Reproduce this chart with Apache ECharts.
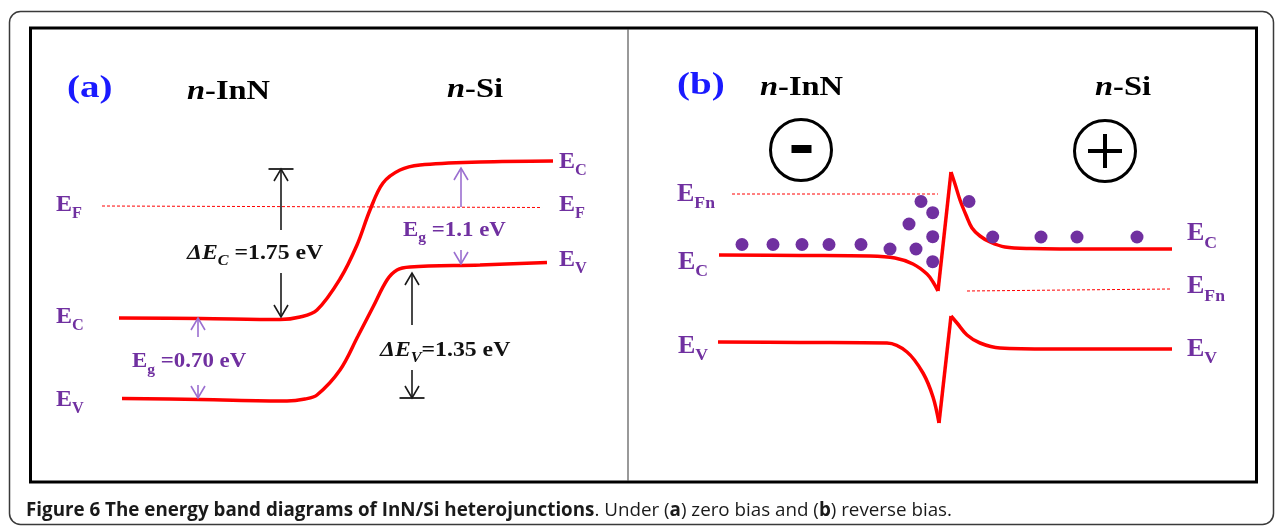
<!DOCTYPE html>
<html>
<head>
<meta charset="utf-8">
<script src="https://cdn.jsdelivr.net/npm/echarts@6/dist/echarts.min.js"></script>
<style>
  html, body { margin: 0; padding: 0; background: #fff; }
  #chart { width: 1281px; height: 527px; }
</style>
</head>
<body>
<div id="chart"></div>
<script>
// Band diagrams of an n-InN / n-Si heterojunction.
// Positions are in arbitrary units along the junction, energies in arbitrary units (higher = up).

// ---- Panel (a): zero bias ----
const EC_A = [[89,165],[170,164.5],[250,163.5],[270,166],[287,173],[310,204],[327,238],[340,273],[353,300],[370,313],[390,318],[450,321],[523,322]];
const EV_A = [[92,84.5],[170,83.5],[257,82],[275,84],[287,88],[310,113],[328,147],[343,176],[357,203],[367,213],[380,216],[450,218],[517,220.5]];
const EF_A = [[72,277],[512,275.5]];

// arrows: [x, from, to, end bar]
const ARROWS_A_BLACK = [[251,253,314,1],[251,210,166,0],[382,158,210,0],[382,113,85,1]];
const ARROWS_A_PURPLE = [[168,146,165,0],[168,98,85,0],[431,276,315,0],[431,233,219,0]];

// text: [x, energy, markup, class]
const LABELS_A = [
  [37,394,'{r|(a)}','tag'],
  [157,391,'{i|n}{r|-InN}','title'],
  [417,393,'{i|n}{r|-Si}','title'],
  [26,278,'{r|E}{s|F}','bandA'],
  [26,166.5,'{r|E}{s|C}','bandA'],
  [26,83,'{r|E}{s|V}','bandA'],
  [529,321.5,'{r|E}{s|C}','bandA'],
  [529,278,'{r|E}{s|F}','bandA'],
  [529,223.5,'{r|E}{s|V}','bandA'],
  [157,230,'{i|ΔE}{si|C}{r| =1.75 eV}','noteK'],
  [102,121.5,'{r|E}{s|g}{r| =0.70 eV}','noteP'],
  [373,253,'{r|E}{s|g}{r| =1.1 eV}','noteP'],
  [350,133,'{i|ΔE}{si|V}{r|=1.35 eV}','noteK']
];

// ---- Panel (b): reverse bias ----
const EC_B_LEFT = [[91,228],[172,227.5],[242,227],[267,225],[285,219],[299,209],[305,201],[310,192]];
const EC_B_SPIKE = [[310,192],[323,311]];
const EC_B_RIGHT = [[323,311],[327,299],[332,283],[338,268],[344,255],[352,247],[362,241],[377,236],[402,234.5],[472,234],[544,234]];
const EV_B_LEFT = [[90,141],[172,140.5],[259,140],[279,131],[295,110],[305,86],[311,60]];
const EV_B_SPIKE = [[311,60],[323,167]];
const EV_B_RIGHT = [[323,167],[329,160],[339,148],[352,140],[372,135],[422,134],[544,134]];
const EFN_B_LEFT = [[104,289],[310,289]];
const EFN_B_RIGHT = [[339,192],[542,194]];
const ELECTRONS_B = [
  [114,238.5],[145,238.5],[174,238.5],[201,238.5],[233,238.5],
  [262,234],[288,234],[281,259],[293,281.5],[304.7,270.3],[304.7,246.3],[304.7,221.3],
  [341,281.5],[364.7,246],[413,246],[449,246],[509,246]
];
// bias polarity symbols: [x, energy, sign]
const SIGNS_B = [[173,333,-1],[477,332,1]];

const LABELS_B = [
  [49,397,'{r|(b)}','tag'],
  [132,395,'{i|n}{r|-InN}','title'],
  [467,395,'{i|n}{r|-Si}','title'],
  [49,289,'{r|E}{s|Fn}','bandB'],
  [50,221,'{r|E}{s|C}','bandB'],
  [50,137,'{r|E}{s|V}','bandB'],
  [559,249.5,'{r|E}{s|C}','bandB'],
  [559,196.5,'{r|E}{s|Fn}','bandB'],
  [559,134,'{r|E}{s|V}','bandB']
];

const RED = '#ff0000';
const PURPLE = '#7030a0';
// sx: horizontal stretch of the lettering
const CLASSES = {
  tag:   { size: 32, color: '#1a1aff', sx: 1.22 },
  title: { size: 28, color: '#000000', sx: 1.16 },
  bandA: { size: 24, color: PURPLE, sx: 1.0 },
  bandB: { size: 26, color: PURPLE, sx: 1.0 },
  noteK: { size: 22, color: '#111111', sx: 1.08 },
  noteP: { size: 22, color: PURPLE, sx: 1.04 }
};
const SERIF = '"Liberation Serif", "Times New Roman", serif';

const measureCtx = document.createElement('canvas').getContext('2d');
function textWidth(font, t) { measureCtx.font = font; return measureCtx.measureText(t).width; }

function textRenderer(labels) {
  return function (params, api) {
    const lab = labels[params.dataIndex];
    const p = api.coord([api.value(0), api.value(1)]);
    const cls = CLASSES[lab[3]];
    const children = [];
    let cx = 0;
    const re = /\{(\w+)\|([^}]*)\}/g;
    let m;
    while ((m = re.exec(lab[2])) !== null) {
      const key = m[1], t = m[2];
      const sub = key === 's' || key === 'si';
      const italic = key === 'i' || key === 'si';
      const size = sub ? cls.size * 0.68 : cls.size;
      const font = (italic ? 'italic ' : '') + 'bold ' + size.toFixed(1) + 'px ' + SERIF;
      children.push({
        type: 'text',
        style: { text: t, x: cx, y: sub ? cls.size * 0.38 : 0, font: font,
                 fill: cls.color, align: 'left', verticalAlign: 'middle' }
      });
      cx += textWidth(font, t);
    }
    return { type: 'group', x: p[0], y: p[1], scaleX: cls.sx, children: children };
  };
}

function arrowRenderer(list, color) {
  return function (params, api) {
    const a = list[params.dataIndex];
    const p0 = api.coord([a[0], a[1]]);
    const p1 = api.coord([a[0], a[2]]);
    const dir = p1[1] > p0[1] ? 1 : -1;
    const st = { stroke: color, lineWidth: 1.6, fill: 'none' };
    const children = [
      { type: 'line', shape: { x1: p0[0], y1: p0[1], x2: p1[0], y2: p1[1] }, style: st },
      { type: 'polyline', shape: { points: [[p1[0] - 7, p1[1] - dir * 12], [p1[0], p1[1]], [p1[0] + 7, p1[1] - dir * 12]] }, style: st }
    ];
    if (a[3]) {
      children.push({ type: 'line', shape: { x1: p1[0] - 12.5, y1: p1[1], x2: p1[0] + 12.5, y2: p1[1] }, style: { stroke: color, lineWidth: 1.8 } });
    }
    return { type: 'group', children: children };
  };
}

function signRenderer(params, api) {
  const s = SIGNS_B[params.dataIndex];
  const c = api.coord([s[0], s[1]]);
  const children = [
    { type: 'circle', shape: { cx: c[0], cy: c[1], r: 30.5 }, style: { fill: 'none', stroke: '#000', lineWidth: 3 } }
  ];
  if (s[2] < 0) {
    children.push({ type: 'rect', shape: { x: c[0] - 9.5, y: c[1] - 5, width: 20, height: 8 }, style: { fill: '#000' } });
  } else {
    children.push({ type: 'rect', shape: { x: c[0] - 17, y: c[1] - 2, width: 34, height: 4 }, style: { fill: '#000' } });
    children.push({ type: 'rect', shape: { x: c[0] - 2, y: c[1] - 17, width: 4, height: 34 }, style: { fill: '#000' } });
  }
  return { type: 'group', children: children };
}

function band(data, grid) {
  return { type: 'line', xAxisIndex: grid, yAxisIndex: grid, data: data, smooth: 0.35,
           showSymbol: false, symbol: 'none', lineStyle: { color: RED, width: 3.5 }, z: 3 };
}
function fermi(data, grid) {
  return { type: 'line', xAxisIndex: grid, yAxisIndex: grid, data: data, showSymbol: false, symbol: 'none',
           lineStyle: { color: RED, width: 1, type: [3, 2] }, z: 2 };
}
function custom(grid, render, n, z) {
  const data = [];
  for (let i = 0; i < n.length; i++) data.push([n[i][0], n[i][1]]);
  return { type: 'custom', xAxisIndex: grid, yAxisIndex: grid, renderItem: render, data: data,
           encode: { x: 0, y: 1 }, clip: false, z: z || 4 };
}

const chart = echarts.init(document.getElementById('chart'), null, { renderer: 'canvas' });
const axisX = (w) => ({ type: 'value', min: 0, max: w, show: false });
const axisY = { type: 'value', min: 0, max: 456, show: false };

chart.setOption({
  animation: false,
  backgroundColor: '#ffffff',
  grid: [
    { left: 30, top: 27, width: 598, height: 456 },
    { left: 628, top: 27, width: 629, height: 456 }
  ],
  xAxis: [Object.assign(axisX(598), { gridIndex: 0 }), Object.assign(axisX(629), { gridIndex: 1 })],
  yAxis: [Object.assign({ gridIndex: 0 }, axisY), Object.assign({ gridIndex: 1 }, axisY)],
  graphic: [
    { type: 'rect', shape: { x: 9.5, y: 11.5, width: 1264, height: 513, r: 11 },
      style: { fill: 'none', stroke: '#3a3a3a', lineWidth: 1.5 }, z: 0 },
    { type: 'rect', shape: { x: 30.5, y: 28, width: 1226, height: 454 },
      style: { fill: 'none', stroke: '#000', lineWidth: 3 }, z: 0 },
    { type: 'line', shape: { x1: 628, y1: 29, x2: 628, y2: 481 },
      style: { stroke: '#555', lineWidth: 1.2 }, z: 0 },
    { type: 'text', x: 26, y: 511, z: 0,
      style: {
        text: '{b|Figure 6 The energy band diagrams of InN/Si heterojunctions}{r|. Under (}{b|a}{r|) zero bias and (}{b|b}{r|) reverse bias.}',
        verticalAlign: 'middle',
        rich: {
          b: { fontFamily: '"Open Sans"', fontWeight: 'bold', fontSize: 18.8, fill: '#1a1a1a' },
          r: { fontFamily: '"Open Sans"', fontWeight: 'normal', fontSize: 18.8, fill: '#1a1a1a' }
        }
      } }
  ],
  series: [
    band(EC_A, 0), band(EV_A, 0), fermi(EF_A, 0),
    custom(0, arrowRenderer(ARROWS_A_BLACK, '#1a1a1a'), ARROWS_A_BLACK),
    custom(0, arrowRenderer(ARROWS_A_PURPLE, '#9b6fd0'), ARROWS_A_PURPLE),
    custom(0, textRenderer(LABELS_A), LABELS_A, 5),

    band(EC_B_LEFT, 1), band(EC_B_SPIKE, 1), band(EC_B_RIGHT, 1),
    band(EV_B_LEFT, 1), band(EV_B_SPIKE, 1), band(EV_B_RIGHT, 1),
    fermi(EFN_B_LEFT, 1), fermi(EFN_B_RIGHT, 1),
    { type: 'scatter', xAxisIndex: 1, yAxisIndex: 1, data: ELECTRONS_B, symbolSize: 13,
      itemStyle: { color: PURPLE, opacity: 1 }, z: 4 },
    custom(1, signRenderer, SIGNS_B),
    custom(1, textRenderer(LABELS_B), LABELS_B, 5)
  ]
});
</script>
</body>
</html>
